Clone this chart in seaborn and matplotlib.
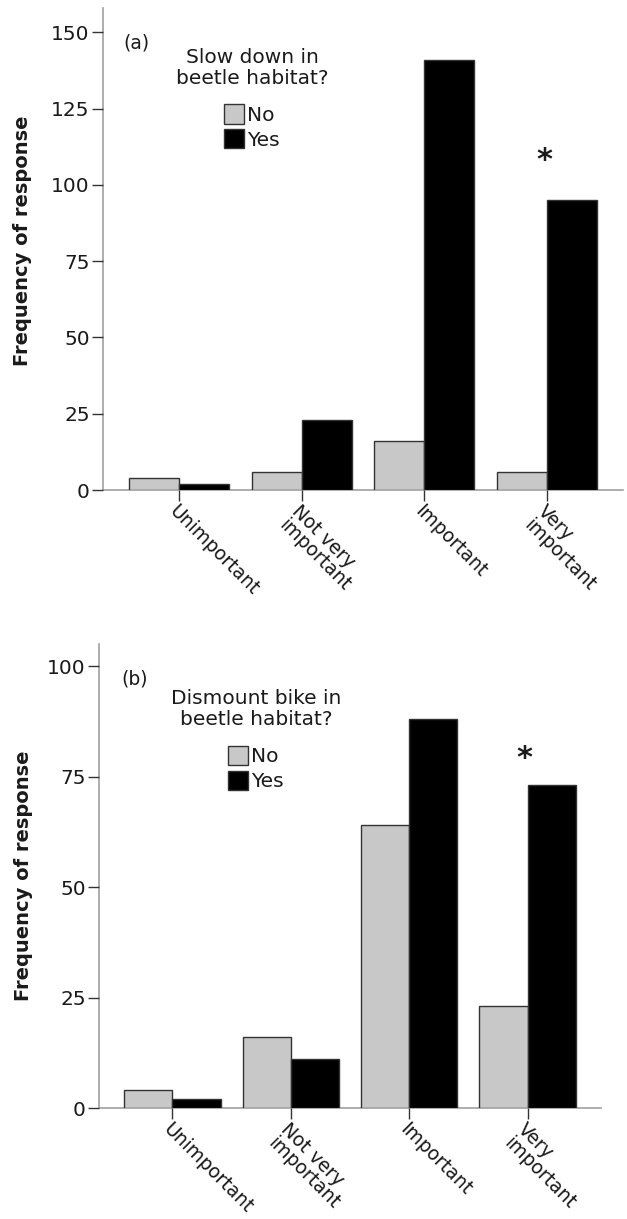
import matplotlib
matplotlib.use("Agg")
import matplotlib.pyplot as plt
from matplotlib.patches import Patch
import pandas as pd
import seaborn as sns

# Importance ratings, split by whether the respondent reported the behaviour
categories = ["Unimportant", "Not very\nimportant", "Important", "Very\nimportant"]
responses = ["No", "Yes"]

slow_no = [4, 6, 16, 6]
slow_yes = [2, 23, 141, 95]

dismount_no = [4, 16, 64, 23]
dismount_yes = [2, 11, 88, 73]

yticks_a = [0, 25, 50, 75, 100, 125, 150]
yticks_b = [0, 25, 50, 75, 100]

legend_title_a = "Slow down in\nbeetle habitat?"
legend_title_b = "Dismount bike in\nbeetle habitat?"
ylabel = "Frequency of response"


def frame(no, yes):
    return pd.DataFrame({
        "importance": categories * 2,
        "response": ["No"] * len(no) + ["Yes"] * len(yes),
        "count": list(no) + list(yes),
    })


sns.set_style("ticks")
plt.rcParams["font.family"] = ["DejaVu Sans"]

palette = {"No": "#c8c8c8", "Yes": "#000000"}
edge = "#333333"
spine_col = "#a0a0a0"
ink = "#1a1a1a"

W, H = 627, 1219
fig = plt.figure(figsize=(W / 100, H / 100), dpi=100)
ax_a = fig.add_axes([103 / W, 1 - 490 / H, 520 / W, 482 / H])
ax_b = fig.add_axes([99 / W, 1 - 1108 / H, 502 / W, 464 / H])


def panel(ax, no, yes, ymax, yticks, title, tag, tag_xy, legend_anchor,
          star_xy, ylabel_coords):
    sns.barplot(data=frame(no, yes), x="importance", y="count",
                hue="response", order=categories, hue_order=responses,
                palette=palette, width=0.815, saturation=1,
                edgecolor=edge, linewidth=1.0, errorbar=None, ax=ax)
    ax.set_xlim(-0.62, 3.62)
    ax.set_ylim(0, ymax)
    ax.set_yticks(yticks)
    ax.set_yticklabels([str(v) for v in yticks])

    for side in ("top", "right"):
        ax.spines[side].set_visible(False)
    for side in ("left", "bottom"):
        ax.spines[side].set_color(spine_col)
        ax.spines[side].set_linewidth(1.2)
        ax.spines[side].set_zorder(0.5)

    ax.tick_params(axis="both", direction="out", length=8, width=1.0,
                   color="#333333", labelsize=14.5, labelcolor=ink, pad=1.5)
    ax.tick_params(axis="x", pad=0.5)
    ax.set_xlabel("")
    ax.set_xticks(range(len(categories)))
    ax.set_xticklabels(categories, rotation=-45, ha="left", va="top",
                       rotation_mode="anchor", multialignment="left",
                       linespacing=1.0)
    for lbl in ax.get_xticklabels():
        lbl.set_fontsize(13.5)

    ax.set_ylabel(ylabel, fontsize=14, fontweight="bold", color=ink)
    ax.yaxis.set_label_coords(*ylabel_coords)

    # Legend: grey/black boxes under a two-line centred title
    old = ax.get_legend()
    if old is not None:
        old.remove()
    handles = [Patch(facecolor=palette[r], edgecolor=edge, linewidth=1.0)
               for r in responses]
    leg = ax.legend(handles, responses, title=title, loc="upper center",
                    bbox_to_anchor=legend_anchor, frameon=False,
                    fontsize=14.5, title_fontsize=14.5, handlelength=1.0,
                    handleheight=1.1, handletextpad=0.15, labelspacing=0.22,
                    borderpad=0.0, borderaxespad=0.0)
    leg.get_title().set_multialignment("center")
    leg.get_title().set_linespacing(1.1)
    leg.get_title().set_color(ink)
    leg._legend_box.sep = 12
    for t in leg.get_texts():
        t.set_color(ink)

    ax.text(*tag_xy, tag, fontsize=13.5, ha="center", va="center", color=ink)
    ax.text(*star_xy, "*", fontsize=22, fontweight="bold", ha="center",
            va="center", color=ink)


panel(ax_a, slow_no, slow_yes, 158, yticks_a, legend_title_a, "(a)",
      (-0.35, 146.5), (0.2865, 0.917), (2.98, 108.0), (-0.136, 0.517))
panel(ax_b, dismount_no, dismount_yes, 105, yticks_b, legend_title_b, "(b)",
      (-0.32, 97.0), (0.313, 0.902), (2.97, 79.0), (-0.132, 0.50))

fig.savefig("out.png", dpi=100, facecolor="white")
